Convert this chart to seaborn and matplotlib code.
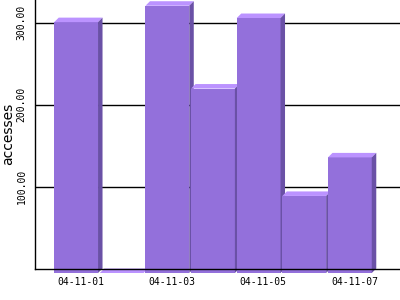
import matplotlib
matplotlib.use("Agg")
import matplotlib.pyplot as plt
import seaborn as sns
import pandas as pd
from matplotlib.patches import Polygon
from matplotlib.transforms import ScaledTranslation

# ---- data ----
dates = ["04-11-01", "04-11-02", "04-11-03", "04-11-04", "04-11-05", "04-11-06", "04-11-07"]
accesses = [306, 0, 326, 225, 311, 94, 141]
y_ticks = [100, 200, 300]
y_tick_labels = ["100.00", "200.00", "300.00"]
x_tick_idx = [0, 2, 4, 6]

FRONT = "#9370DB"
TOP = "#BB93FF"
SIDE = "#6A51A6"
DEPTH_PX = 4.5

sns.set_style("white")
plt.rcParams["font.family"] = ["DejaVu Sans"]
plt.rcParams["text.color"] = "black"
plt.rcParams["xtick.color"] = "black"
plt.rcParams["ytick.color"] = "black"
plt.rcParams["axes.labelcolor"] = "black"

df = pd.DataFrame({"date": dates, "accesses": accesses})

fig = plt.figure(figsize=(4, 3), dpi=100)
ax = fig.add_axes([35 / 400, (300 - 268.5) / 300, 365 / 400, 268.5 / 300])

sns.barplot(data=df, x="date", y="accesses", color=FRONT, saturation=1,
            width=0.96, ax=ax, zorder=2, linewidth=0)

ax.set_xlim(-1, 7)
ax.set_ylim(0, 327.5)

# gridlines behind bars
for yv in y_ticks:
    ax.axhline(yv, color="black", lw=1, zorder=0.5)

fig.canvas.draw()
# depth in data units
inv = ax.transData.inverted()
p0 = ax.transData.transform((0, 0))
p1 = inv.transform((p0[0] + DEPTH_PX, p0[1] + DEPTH_PX))
ddx, ddy = p1[0], p1[1]

off = ScaledTranslation(-DEPTH_PX / fig.dpi, -DEPTH_PX / fig.dpi, fig.dpi_scale_trans)
bars = list(ax.patches)
for i, p in enumerate(bars):
    x0 = p.get_x()
    w = p.get_width()
    h = p.get_height()
    x1 = x0 + w
    p.set_transform(ax.transData + off)
    p.set_clip_on(False)
    p.set_zorder(3 + i * 0.1)
    top = Polygon([(x0 - ddx, h - ddy), (x1 - ddx, h - ddy), (x1, h), (x0, h)],
                  closed=True, facecolor=TOP, edgecolor="none", zorder=3 + i * 0.1,
                  clip_on=False)
    side = Polygon([(x1 - ddx, -ddy), (x1 - ddx, h - ddy), (x1, h), (x1, 0)],
                   closed=True, facecolor=SIDE, edgecolor="none", zorder=3 + i * 0.1,
                   clip_on=False)
    ax.add_patch(top)
    ax.add_patch(side)

ax.set_yticks(y_ticks)
ax.set_yticklabels(y_tick_labels, rotation=90, va="center",
                   family="DejaVu Sans Mono", fontsize=7, color="black")
ax.set_xticks(x_tick_idx)
ax.set_xticklabels([dates[i] for i in x_tick_idx], family="DejaVu Sans Mono",
                   fontsize=7, color="black")
ax.tick_params(axis="y", length=0, pad=6)
ax.tick_params(axis="x", length=0, pad=6)

ax.set_xlabel("")
ax.set_ylabel("accesses", fontsize=10, color="black")
ax.yaxis.set_label_coords(-0.055, 0.5)

for s in ["top", "right"]:
    ax.spines[s].set_visible(False)
for s in ["left", "bottom"]:
    ax.spines[s].set_color("black")
    ax.spines[s].set_linewidth(1)
    ax.spines[s].set_zorder(10)

fig.savefig("out.png", dpi=100)
